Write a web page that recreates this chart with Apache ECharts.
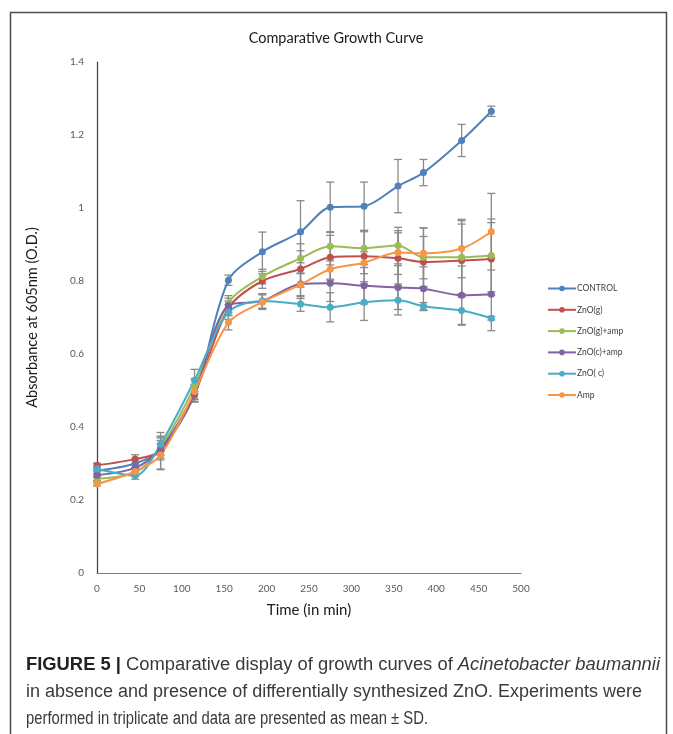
<!DOCTYPE html>
<html>
<head>
<meta charset="utf-8">
<script src="https://cdn.jsdelivr.net/npm/echarts@6/dist/echarts.min.js"></script>
<style>
  html, body { margin: 0; padding: 0; background: #fff; }
  #chart { width: 673px; height: 734px; }
</style>
</head>
<body>
<div id="chart"></div>
<script>
// Sampling times (min)
const times = [0, 45, 75, 115, 155, 195, 240, 275, 315, 355, 385, 430, 465];

// Mean absorbance at 605 nm for each culture
const control   = [0.280, 0.300, 0.338, 0.488, 0.802, 0.880, 0.935, 1.002, 1.005, 1.060, 1.097, 1.185, 1.265];
const znoG      = [0.295, 0.312, 0.335, 0.490, 0.725, 0.800, 0.833, 0.865, 0.868, 0.862, 0.852, 0.856, 0.860];
const znoGAmp   = [0.258, 0.275, 0.345, 0.512, 0.740, 0.812, 0.862, 0.895, 0.890, 0.897, 0.865, 0.865, 0.870];
const znoCAmp   = [0.268, 0.288, 0.340, 0.495, 0.733, 0.745, 0.792, 0.794, 0.787, 0.782, 0.779, 0.761, 0.764];
const znoC      = [0.285, 0.267, 0.353, 0.528, 0.715, 0.745, 0.737, 0.728, 0.742, 0.747, 0.731, 0.719, 0.698];
const amp       = [0.244, 0.278, 0.323, 0.497, 0.686, 0.742, 0.790, 0.832, 0.850, 0.878, 0.876, 0.889, 0.935];

// Standard deviations (triplicates)
const controlSd = [0.008, 0.012, 0.015, 0.020, 0.014, 0.054, 0.085, 0.069, 0.066, 0.073, 0.036, 0.044, 0.014];
const znoGSd    = [0.006, 0.012, 0.050, 0.020, 0.020, 0.020, 0.050, 0.060, 0.070, 0.070, 0.070, 0.100, 0.100];
const znoGAmpSd = [0.005, 0.010, 0.030, 0.020, 0.020, 0.020, 0.040, 0.040, 0.045, 0.050, 0.080, 0.100, 0.100];
const znoCAmpSd = [0.005, 0.010, 0.030, 0.020, 0.020, 0.020, 0.040, 0.050, 0.050, 0.060, 0.060, 0.080, 0.100];
const znoCSd    = [0.005, 0.010, 0.020, 0.030, 0.020, 0.020, 0.020, 0.040, 0.050, 0.040, 0.010, 0.040, 0.005];
const ampSd     = [0.005, 0.010, 0.040, 0.020, 0.020, 0.020, 0.030, 0.030, 0.030, 0.060, 0.070, 0.080, 0.105];

const seriesNames = ['CONTROL', 'ZnO(g)', 'ZnO(g)+amp', 'ZnO(c)+amp', 'ZnO( c)', 'Amp'];
const seriesValues = [control, znoG, znoGAmp, znoCAmp, znoC, amp];
const seriesSds = [controlSd, znoGSd, znoGAmpSd, znoCAmpSd, znoCSd, ampSd];
const palette = ['#4F81BD', '#C0504D', '#9BBB59', '#8064A2', '#4BACC6', '#F79646'];

// Axis ticks
const xTicks = { min: 0, max: 500, interval: 50 };
const yTicks = { min: 0, max: 1.4, interval: 0.2 };

// Figure caption, one entry per printed line: [bold, regular, italic] segments
const captionLines = [
  ['FIGURE 5 | ', 'Comparative display of growth curves of ', 'Acinetobacter baumannii'],
  ['', 'in absence and presence of differentially synthesized ZnO. Experiments were', ''],
  ['', 'performed in triplicate and data are presented as mean \u00b1 SD.', '']
];

const chartFont = 'Lato, "Open Sans", sans-serif';
const capFamily = '"Liberation Sans", Arial, sans-serif';
const capSize = 18;

function errorBarItem(params, api) {
  const t = api.value(0);
  const top = api.coord([t, api.value(2)]);
  const bot = api.coord([t, api.value(1)]);
  const cap = 4;
  const style = { stroke: '#8a8a8a', lineWidth: 1.3 };
  return {
    type: 'group',
    children: [
      { type: 'line', shape: { x1: top[0], y1: top[1], x2: bot[0], y2: bot[1] }, style },
      { type: 'line', shape: { x1: top[0] - cap, y1: top[1], x2: top[0] + cap, y2: top[1] }, style },
      { type: 'line', shape: { x1: bot[0] - cap, y1: bot[1], x2: bot[0] + cap, y2: bot[1] }, style }
    ]
  };
}

const series = [];
seriesNames.forEach((name, i) => {
  const vals = seriesValues[i];
  const sds = seriesSds[i];
  series.push({
    type: 'custom',
    name: name + ' SD',
    renderItem: errorBarItem,
    data: times.map((t, k) => [t, vals[k] - sds[k], vals[k] + sds[k]]),
    encode: { x: 0, y: [1, 2] },
    z: 1,
    silent: true
  });
});
seriesNames.forEach((name, i) => {
  const vals = seriesValues[i];
  series.push({
    type: 'line',
    name: name,
    data: times.map((t, k) => [t, vals[k]]),
    smooth: 0.3,
    symbol: 'circle',
    symbolSize: 7,
    itemStyle: { color: palette[i] },
    lineStyle: { color: palette[i], width: 2 },
    z: 3
  });
});

// Caption block: each printed line is fitted to its own measure
const measureCtx = document.createElement('canvas').getContext('2d');
function segWidth(text, font) {
  measureCtx.font = font;
  return measureCtx.measureText(text).width;
}
const fonts = [
  'bold ' + capSize + 'px ' + capFamily,
  capSize + 'px ' + capFamily,
  'italic ' + capSize + 'px ' + capFamily
];
const lineLayout = [
  { left: 26, right: 660, y: 665 },
  { left: 26, right: 642, y: 692 },
  { left: 26, right: 428, y: 719 }
];
const captionGraphics = captionLines.map((segs, li) => {
  const natural = segs.reduce((s, seg, k) => s + (seg ? segWidth(seg, fonts[k]) : 0), 0);
  const lay = lineLayout[li];
  const scale = (lay.right - lay.left) / natural;
  let text = '';
  if (segs[0]) text += '{b|' + segs[0] + '}';
  if (segs[1]) text += '{r|' + segs[1] + '}';
  if (segs[2]) text += '{i|' + segs[2] + '}';
  return {
    type: 'text',
    x: lay.left,
    y: lay.y,
    scaleX: scale,
    silent: true,
    style: {
      text: text,
      verticalAlign: 'middle',
      rich: {
        b: { font: fonts[0], fill: '#222' },
        r: { font: fonts[1], fill: '#3a3a3a' },
        i: { font: fonts[2], fill: '#3a3a3a' }
      }
    }
  };
});

const chart = echarts.init(document.getElementById('chart'), null, { renderer: 'canvas' });
chart.setOption({
  animation: false,
  color: palette,
  title: {
    text: 'Comparative Growth Curve',
    left: 331,
    textAlign: 'center',
    top: 26,
    textStyle: { fontFamily: chartFont, fontSize: 14.5, fontWeight: 'normal', color: '#1a1a1a' }
  },
  legend: {
    data: seriesNames,
    orient: 'vertical',
    left: 542,
    top: 279,
    itemWidth: 28,
    itemHeight: 7,
    itemGap: 12.3,
    textStyle: { fontFamily: chartFont, fontSize: 8.5, color: '#404040', padding: [0, 0, 0, -4] }
  },
  grid: { left: 97, right: 152, top: 62, bottom: 161 },
  xAxis: {
    type: 'value',
    min: xTicks.min, max: xTicks.max, interval: xTicks.interval,
    name: 'Time (in min)',
    nameLocation: 'middle',
    nameGap: 30,
    nameTextStyle: { fontFamily: chartFont, fontSize: 15, color: '#1a1a1a' },
    axisLine: { lineStyle: { color: '#7f7f7f', width: 1.2 } },
    axisTick: { show: false },
    splitLine: { show: false },
    axisLabel: { fontFamily: chartFont, fontSize: 10, color: '#595959', margin: 11 }
  },
  yAxis: {
    type: 'value',
    min: yTicks.min, max: yTicks.max, interval: yTicks.interval,
    name: 'Absorbance at 605nm (O.D.)',
    nameLocation: 'middle',
    nameRotate: 90,
    nameGap: 57,
    nameTextStyle: { fontFamily: chartFont, fontSize: 14.5, color: '#1a1a1a' },
    axisLine: { show: true, lineStyle: { color: '#404040', width: 1.2 } },
    axisTick: { show: false },
    splitLine: { show: false },
    axisLabel: { fontFamily: chartFont, fontSize: 10, color: '#595959', margin: 13 }
  },
  graphic: [
    {
      type: 'rect',
      shape: { x: 10.5, y: 12.5, width: 656, height: 740 },
      style: { fill: null, stroke: '#4d4d4d', lineWidth: 1.5 },
      silent: true,
      z: -1
    }
  ].concat(captionGraphics),
  series: series
});
</script>
</body>
</html>
